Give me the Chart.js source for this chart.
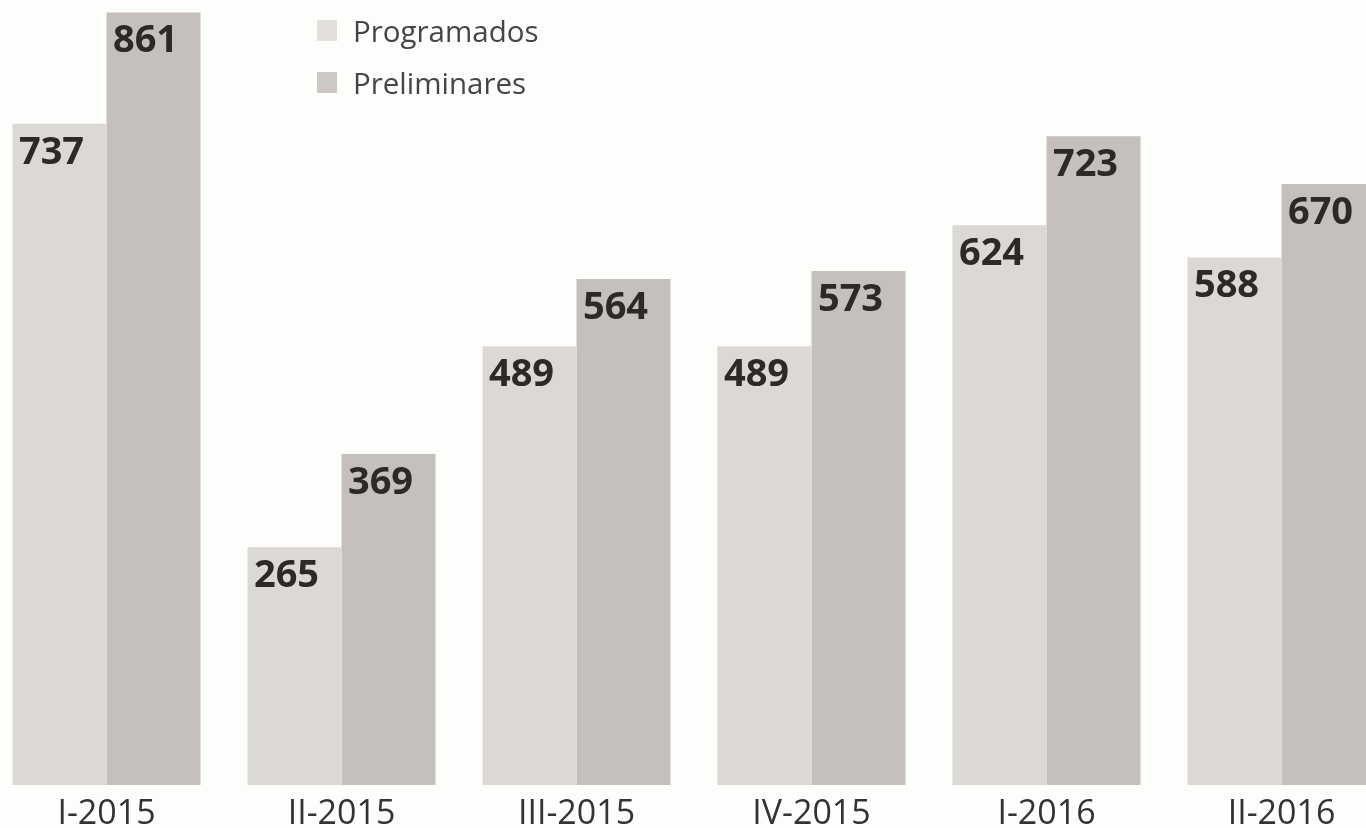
<!DOCTYPE html>
<html>
<head>
<meta charset="utf-8">
<script src="https://cdn.jsdelivr.net/npm/chart.js@4/dist/chart.umd.min.js"></script>
<style>
    html, body { margin: 0; padding: 0; background: #fdfdfc; overflow: hidden; }
    body { width: 1366px; height: 828px; position: relative; }
    .wrap { position: absolute; left: -11px; top: 0; width: 1410px; height: 828px; }
    .legend { position: absolute; left: 317px; top: 4px; font-family: "Open Sans", sans-serif; font-size: 29.5px; color: #454545; }
    .legend div { height: 52px; display: flex; align-items: center; }
    .legend div span.sw { display: inline-block; width: 20px; height: 21px; margin-right: 16px; }
</style>
</head>
<body>
<div class="wrap"><canvas id="barChart"></canvas></div>
<div class="legend">
    <div><span class="sw" style="background:#e2dfdc"></span>Programados</div>
    <div><span class="sw" style="background:#cdc8c4"></span>Preliminares</div>
</div>
<script>
const periods = ['I-2015', 'II-2015', 'III-2015', 'IV-2015', 'I-2016', 'II-2016'];
const programados = [737, 265, 489, 489, 624, 588];
const preliminares = [861, 369, 564, 573, 723, 670];

// numbers printed inside the top of each bar
const valueLabels = {
    id: 'valueLabels',
    afterDatasetsDraw(chart) {
        const ctx = chart.ctx;
        ctx.save();
        ctx.font = 'bold 38px "Open Sans", sans-serif';
        ctx.fillStyle = '#2b2a29';
        ctx.textAlign = 'center';
        ctx.textBaseline = 'middle';
        chart.data.datasets.forEach((ds, i) => {
            chart.getDatasetMeta(i).data.forEach((bar, j) => {
                ctx.fillText(ds.data[j], bar.x - 8, bar.y + 29);
            });
        });
        ctx.restore();
    }
};

const chart = new Chart(document.getElementById('barChart'), {
    type: 'bar',
    data: {
        labels: periods,
        datasets: [
            { label: 'Programados', data: programados, backgroundColor: '#dcd8d5' },
            { label: 'Preliminares', data: preliminares, backgroundColor: '#c5c0bc' }
        ]
    },
    options: {
        responsive: true,
        maintainAspectRatio: false,
        animation: false,
        layout: { padding: 0 },
        datasets: { bar: { categoryPercentage: 0.8, barPercentage: 1.0, borderWidth: 0 } },
        scales: {
            x: {
                grid: { display: false },
                border: { display: false },
                ticks: {
                    padding: 1,
                    color: '#333',
                    font: { family: 'Open Sans', size: 34 }
                },
                afterFit(scale) { scale.height = 43; }
            },
            y: { display: false, min: 0, max: 875 }
        },
        plugins: {
            legend: { display: false },
            tooltip: { enabled: false }
        }
    },
    plugins: [valueLabels]
});
</script>
</body>
</html>
